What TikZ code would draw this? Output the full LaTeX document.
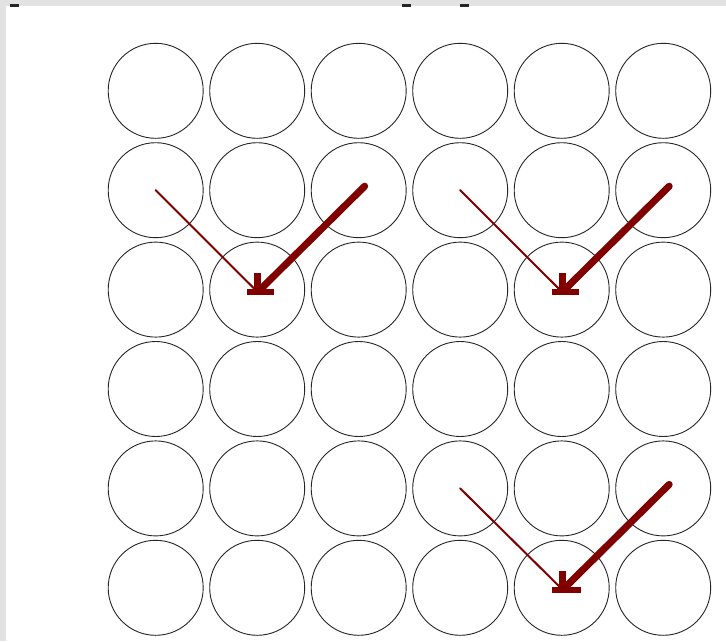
\documentclass[tikz,border=0pt]{standalone}
\usepackage{tikz}
\definecolor{maroonarrow}{RGB}{128,0,0}
\definecolor{bggray}{RGB}{226,226,226}
\tikzset{
  cell/.style={draw=black!85, line width=0.9pt, circle, inner sep=0pt, minimum size=95pt},
  thinarrow/.style={draw=maroonarrow, line width=2pt, line cap=round},
  thickarrow/.style={draw=maroonarrow, line width=7pt, line cap=round},
  hbarb/.style={draw=maroonarrow, line width=5.5pt},
  vbarb/.style={draw=maroonarrow, line width=7pt},
  topmark/.style={fill=black!85, draw=none}
}
\begin{document}
\begin{tikzpicture}[x=1pt,y=-1pt]
  \useasboundingbox (0,0) rectangle (726,641);
  \fill[bggray] (0,0) rectangle (726,641);
  \fill[white] (6,6) rectangle (726,641);
  \fill[topmark] (10,4) rectangle (19,7);
  \fill[topmark] (402,4) rectangle (411,7);
  \fill[topmark] (460,4) rectangle (469,7);
  % grid of circles
  \foreach \i in {1,...,6}{
    \foreach \j in {1,...,6}{
      \node[cell] (c-\i-\j) at ({155.7+101.5*(\j-1)}, {90.8+99.4*(\i-1)}) {};
    }
  }
  % arrow tips and free starts
  \coordinate (tipA) at ([shift={(0.5,2.5)}]c-3-2.center);
  \coordinate (tipB) at ([shift={(0.5,2.5)}]c-3-5.center);
  \coordinate (tipC) at ([shift={(1,2)}]c-6-5.center);
  \coordinate (startA) at ([shift={(6,-4)}]c-2-3.center);
  \coordinate (startB) at ([shift={(6,-4)}]c-2-6.center);
  \coordinate (startC) at ([shift={(6,-4)}]c-5-6.center);
  % group A
  \draw[thinarrow] (c-2-1.center) -- (tipA);
  \draw[thickarrow] (startA) -- ([shift={(3,-3)}]tipA);
  \draw[hbarb] ([shift={(-10.5,0)}]tipA) -- ([shift={(16.5,0)}]tipA);
  \draw[vbarb] ([shift={(0,2.7)}]tipA) -- ([shift={(0,-19)}]tipA);
  % group B
  \draw[thinarrow] (c-2-4.center) -- (tipB);
  \draw[thickarrow] (startB) -- ([shift={(3,-3)}]tipB);
  \draw[hbarb] ([shift={(-10.5,0)}]tipB) -- ([shift={(16.5,0)}]tipB);
  \draw[vbarb] ([shift={(0,2.7)}]tipB) -- ([shift={(0,-19)}]tipB);
  % group C
  \draw[thinarrow] (c-5-4.center) -- (tipC);
  \draw[thickarrow] (startC) -- ([shift={(3,-3)}]tipC);
  \draw[hbarb] ([shift={(-10.5,0)}]tipC) -- ([shift={(18,0)}]tipC);
  \draw[vbarb] ([shift={(0,2.7)}]tipC) -- ([shift={(0,-19)}]tipC);
\end{tikzpicture}
\end{document}
